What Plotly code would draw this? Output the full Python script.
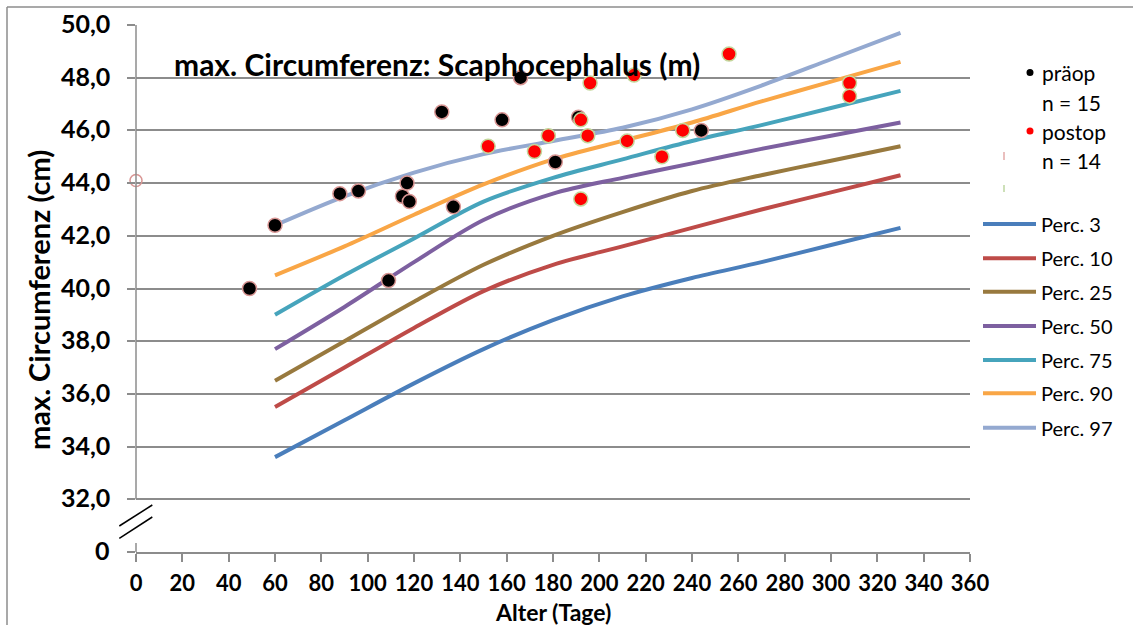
import plotly.graph_objects as go

# ---- data -----------------------------------------------------------------
pct_days = [60, 90, 120, 150, 180, 210, 240, 270, 300, 330]
perc_3 = [33.6, 35.0, 36.4, 37.7, 38.8, 39.7, 40.4, 41.0, 41.65, 42.3]
perc_10 = [35.5, 37.0, 38.5, 39.9, 40.9, 41.6, 42.3, 43.0, 43.65, 44.3]
perc_25 = [36.5, 38.0, 39.5, 40.9, 42.0, 42.9, 43.7, 44.3, 44.85, 45.4]
perc_50 = [37.7, 39.3, 41.0, 42.6, 43.6, 44.2, 44.75, 45.3, 45.8, 46.3]
perc_75 = [39.0, 40.5, 41.9, 43.3, 44.2, 44.9, 45.6, 46.2, 46.85, 47.5]
perc_90 = [40.5, 41.6, 42.8, 43.95, 44.9, 45.6, 46.3, 47.1, 47.85, 48.6]
perc_97 = [42.4, 43.5, 44.4, 45.1, 45.6, 46.1, 46.8, 47.7, 48.7, 49.7]

pre_days = [49, 60, 88, 96, 109, 115, 117, 118, 132, 137, 158, 166, 181, 191, 244]
pre_circ = [40.0, 42.4, 43.6, 43.7, 40.3, 43.5, 44.0, 43.3, 46.7, 43.1, 46.4, 48.0, 44.8, 46.5, 46.0]

post_days = [152, 172, 178, 192, 192, 195, 196, 212, 215, 227, 236, 256, 308, 308]
post_circ = [45.4, 45.2, 45.8, 46.4, 43.4, 45.8, 47.8, 45.6, 48.1, 45.0, 46.0, 48.9, 47.8, 47.3]

empty_days = [0]
empty_circ = [44.1]

perc_names = ["Perc. 3", "Perc. 10", "Perc. 25", "Perc. 50", "Perc. 75", "Perc. 90", "Perc. 97"]
perc_colors = ["#4a7ebb", "#be4b48", "#98793e", "#7d60a0", "#46a4bc", "#f9a646", "#94a9d0"]
perc_values = [perc_3, perc_10, perc_25, perc_50, perc_75, perc_90, perc_97]

x_ticks = list(range(0, 361, 20))
y_ticks = list(range(30, 51, 2))
y_ticktext = ["0"] + [f"{v},0" for v in y_ticks[1:]]

# ---- page geometry ---------------------------------------------------------
W, H = 1133, 625
ML, MR, MT, MB = 136, 163, 25, 73
PW, PH = W - ML - MR, H - MT - MB


def px_x(px):
    return (px - ML) / PW


def px_y(py):
    return (H - MB - py) / PH


FONT = "Lato, 'Open Sans', sans-serif"
GRID = "#8c8c8c"

fig = go.Figure()

for name, color, vals in zip(perc_names, perc_colors, perc_values):
    fig.add_trace(go.Scatter(
        x=pct_days, y=vals, mode="lines", name=name,
        line=dict(color=color, width=4, shape="spline", smoothing=0.9),
        showlegend=False,
    ))

fig.add_trace(go.Scatter(
    x=empty_days, y=empty_circ, mode="markers", showlegend=False,
    marker=dict(size=12, color="rgba(0,0,0,0)", line=dict(color="#d99694", width=1.5)),
    cliponaxis=False,
))
fig.add_trace(go.Scatter(
    x=pre_days, y=pre_circ, mode="markers", name="präop", showlegend=False,
    marker=dict(size=14, color="#000000", line=dict(color="#d99694", width=1.5)),
    cliponaxis=False,
))
fig.add_trace(go.Scatter(
    x=post_days, y=post_circ, mode="markers", name="postop", showlegend=False,
    marker=dict(size=14, color="#ff0000", line=dict(color="#c3d69b", width=1.5)),
    cliponaxis=False,
))

shapes = []
# vertical axis line (broken below 32)
shapes.append(dict(type="line", xref="paper", yref="paper", x0=0, x1=0,
                   y0=(32 - 30) / 20, y1=1, line=dict(color=GRID, width=1.5)))
shapes.append(dict(type="line", xref="paper", yref="paper", x0=0, x1=0,
                   y0=0, y1=px_y(543), line=dict(color=GRID, width=1.5)))
# axis break marks
for (x0, y0, x1, y1) in [(119.3, 526, 152.3, 505), (119.3, 538.3, 152.3, 517)]:
    shapes.append(dict(type="line", xref="paper", yref="paper",
                       x0=px_x(x0), y0=px_y(y0), x1=px_x(x1), y1=px_y(y1),
                       line=dict(color="#000000", width=1.5)))
# chart frame
shapes.append(dict(type="line", xref="paper", yref="paper",
                   x0=px_x(7), x1=px_x(W + 5), y0=px_y(7), y1=px_y(7),
                   line=dict(color=GRID, width=1.5)))
shapes.append(dict(type="line", xref="paper", yref="paper",
                   x0=px_x(7), x1=px_x(7), y0=px_y(7), y1=px_y(H + 5),
                   line=dict(color=GRID, width=1.5)))

annotations = []
LEG_SIZE = 20
# y tick labels placed beside the gridlines
for val, txt in zip(y_ticks, y_ticktext):
    annotations.append(dict(text=f"<b>{txt}</b>", xref="paper", yref="paper",
                            x=px_x(112), y=(val - 30) / 20, xanchor="right", yanchor="middle",
                            yshift=2,
                            showarrow=False, font=dict(family=FONT, size=25, color="#000")))

# legend: pre / post op
for label, color, yc in [("präop", "#000000", 72.5), ("postop", "#ff0000", 131)]:
    shapes.append(dict(type="circle", xref="paper", yref="paper",
                       xsizemode="pixel", ysizemode="pixel",
                       xanchor=px_x(1030), yanchor=px_y(yc),
                       x0=-3.5, x1=3.5, y0=-3.5, y1=3.5,
                       fillcolor=color, line=dict(width=0)))
    annotations.append(dict(text=label, xref="paper", yref="paper",
                            x=px_x(1040), y=px_y(yc), xanchor="left", yanchor="middle",
                            showarrow=False, font=dict(family=FONT, size=21, color="#000")))
for label, yc in [("n = 15", 102), ("n = 14", 160.5)]:
    annotations.append(dict(text=label, xref="paper", yref="paper",
                            x=px_x(1040), y=px_y(yc), xanchor="left", yanchor="middle",
                            showarrow=False, font=dict(family=FONT, size=21, color="#000")))
# clipped marker remnants beside the legend
shapes.append(dict(type="line", xref="paper", yref="paper", x0=px_x(1004), x1=px_x(1004),
                   y0=px_y(152), y1=px_y(160), line=dict(color="#e3aaa8", width=1.5)))
shapes.append(dict(type="line", xref="paper", yref="paper", x0=px_x(1004), x1=px_x(1004),
                   y0=px_y(185), y1=px_y(192), line=dict(color="#bcd6a0", width=1.5)))

# legend: percentiles
leg_y = [224, 258.3, 291.7, 326, 360, 393.3, 427.7]
for name, color, yc in zip(perc_names, perc_colors, leg_y):
    shapes.append(dict(type="line", xref="paper", yref="paper",
                       x0=px_x(983), x1=px_x(1036), y0=px_y(yc), y1=px_y(yc),
                       line=dict(color=color, width=4)))
    annotations.append(dict(text=name, xref="paper", yref="paper",
                            x=px_x(1039), y=px_y(yc), xanchor="left", yanchor="middle",
                            showarrow=False, font=dict(family=FONT, size=LEG_SIZE, color="#000")))

# titles
annotations.append(dict(text="<b>max. Circumferenz: Scaphocephalus (m)</b>", xref="paper", yref="paper",
                        x=px_x(437), y=px_y(64), xanchor="center", yanchor="middle",
                        showarrow=False, font=dict(family=FONT, size=30, color="#000")))
annotations.append(dict(text="<b>max. Circumferenz (cm)</b>", xref="paper", yref="paper",
                        x=px_x(38), y=px_y(300), xanchor="center", yanchor="middle", textangle=-90,
                        showarrow=False, font=dict(family=FONT, size=29, color="#000")))
annotations.append(dict(text="<b>Alter (Tage)</b>", xref="paper", yref="paper",
                        x=px_x(553), y=px_y(612), xanchor="center", yanchor="middle",
                        showarrow=False, font=dict(family=FONT, size=23, color="#000")))

fig.update_layout(
    width=W, height=H,
    margin=dict(l=ML, r=MR, t=MT, b=MB, pad=0),
    paper_bgcolor="#ffffff", plot_bgcolor="#ffffff",
    shapes=shapes, annotations=annotations,
    xaxis=dict(range=[0, 360], tickvals=x_ticks, ticks="outside", ticklen=8,
               tickwidth=1.5, tickcolor=GRID, showgrid=False, zeroline=False,
               showline=True, linecolor=GRID, linewidth=1.5,
               tickfont=dict(family=FONT, size=22, color="#000", weight="bold"),
               ticklabelstandoff=3),
    yaxis=dict(range=[30, 50], tickvals=y_ticks, ticks="outside", showticklabels=False,
               ticklen=8, tickwidth=1.5, tickcolor=GRID, showgrid=True, gridcolor=GRID,
               gridwidth=1.5, zeroline=False, showline=False),
    showlegend=False,
)

fig.write_html("out.html")
